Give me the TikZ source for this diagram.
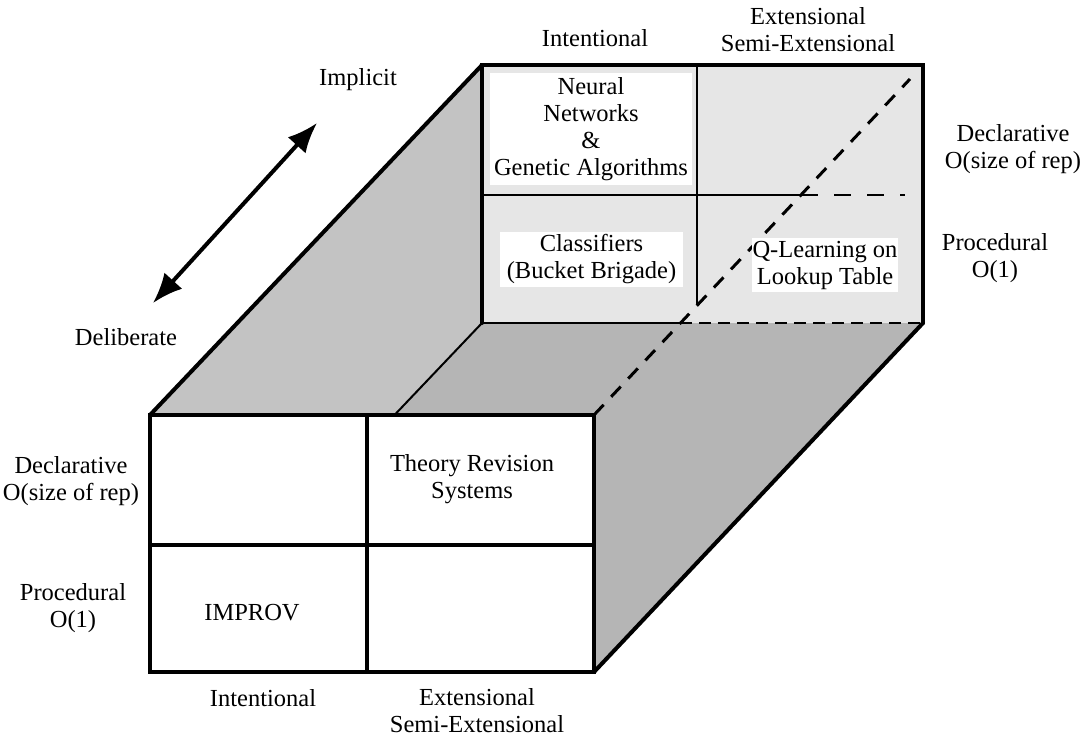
\documentclass[tikz,border=0pt]{standalone}
\usepackage{fontspec}
\setmainfont{Liberation Serif}
\usetikzlibrary{arrows.meta}
\definecolor{backwall}{HTML}{E6E6E6}
\definecolor{sidewall}{HTML}{C3C3C3}
\definecolor{floorgray}{HTML}{B5B5B5}
\tikzset{bighead/.tip={Latex[length=30pt,width=24pt]}}
\begin{document}
\begin{tikzpicture}[x=1pt,y=-1pt,
  lbl/.style={align=center,inner sep=0pt,font=\fontsize{24.5}{27}\selectfont},
  cellbox/.style={lbl,fill=white},
  heavy/.style={line width=4pt,line cap=round,line join=miter},
  divider/.style={line width=3.5pt},
  thinline/.style={line width=2pt},
  hidden/.style={line width=3pt,dash pattern=on 14pt off 11pt},
  hiddenthin/.style={line width=2pt,dash pattern=on 17pt off 16pt},
  hiddenfine/.style={line width=1.8pt,dash pattern=on 12pt off 7pt}]
\useasboundingbox (0,0) rectangle (1089,736);

% corners of the box: front face F, back face B
\coordinate (F1) at (150,415);
\coordinate (F2) at (594,415);
\coordinate (F3) at (594,672);
\coordinate (F4) at (150,672);
\coordinate (B1) at (482,65);
\coordinate (B2) at (923,65);
\coordinate (B3) at (923,323);
\coordinate (B4) at (482,323);
% where the floor edge disappears behind the front face
\coordinate (FL) at (394.5,415);
% points of the back grid and hidden edges
\coordinate (VT) at (697,65);
\coordinate (VB) at (697,305);
\coordinate (HL) at (482,195);
\coordinate (HM) at (801,195);
\coordinate (HR) at (905,195);
\coordinate (BM) at (680,323);
\coordinate (DE) at (910,79);

% side wall and floor
\fill[sidewall] (F1) -- (B1) -- (B4) -- (FL) -- cycle;
\fill[floorgray] (FL) -- (B4) -- (B3) -- (F3) -- (F2) -- cycle;

% back face
\fill[backwall] (B1) rectangle (B3);
\draw[thinline] (VT) -- (VB);
\draw[thinline] (HL) -- (HM);
\draw[hiddenthin] (HM) -- (HR);
\draw[thinline] (B4) -- (BM);
\draw[hiddenfine] (BM) -- (B3);
\draw[hidden] (F2) -- (DE);

% labelled cells on the back face
\node[cellbox,minimum width=202pt,minimum height=112pt] (nn) at (591,129)
  {Neural\\Networks\\\&\\Genetic Algorithms};
\node[cellbox,minimum width=183pt,minimum height=55pt] (cl) at (591.5,259.5)
  {Classifiers\\(Bucket Brigade)};
\node[cellbox,minimum width=146pt,minimum height=54pt] (ql) at (825,265)
  {Q-Learning on\\Lookup Table};

\draw[heavy] (B4) -- (B1) -- (B2) -- (B3);
\draw[thinline] (FL) -- (B4);
\draw[heavy] (F1) -- (B1);
\draw[heavy] (F3) -- (B3);

% front face
\fill[white] (F1) rectangle (F3);
\draw[divider] (367,415) -- (367,672);
\draw[divider] (150,545) -- (594,545);
\draw[heavy] (F1) rectangle (F3);

\node[lbl] (tr) at (472,479) {Theory Revision\\Systems};
\node[lbl] (im) at (252,613) {IMPROV};

% axis labels
\node[lbl] (ldecl) at (71,481) {Declarative\\O(size of rep)};
\node[lbl] (lproc) at (73,608) {Procedural\\O(1)};
\node[lbl] (bint) at (263,698) {Intentional};
\node[lbl] (bext) at (477,711) {Extensional\\Semi-Extensional};
\node[lbl] (tint) at (595,38) {Intentional};
\node[lbl] (text) at (808,30) {Extensional\\Semi-Extensional};
\node[lbl] (rdecl) at (1013,149) {Declarative\\O(size of rep)};
\node[lbl] (rproc) at (995,258) {Procedural\\O(1)};

% implicit / deliberate axis
\node[lbl] (impl) at (358,80) {Implicit};
\node[lbl] (delib) at (126,337) {Deliberate};
\coordinate (AL) at (153,303);
\coordinate (AU) at (317,123);
\draw[line width=4pt,bighead-bighead] (AL) -- (AU);
\end{tikzpicture}
\end{document}
